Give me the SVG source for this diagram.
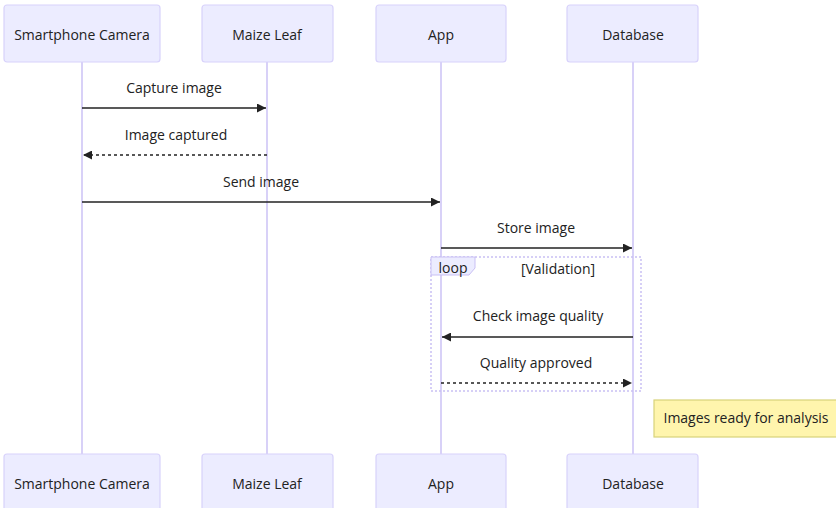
<svg xmlns="http://www.w3.org/2000/svg" width="836" height="508" viewBox="0 0 836 508">
<style>
.actor{fill:#ececff;stroke:#d8d2fb;stroke-width:1.2}
.atext{font-family:"Open Sans","Liberation Sans",sans-serif;font-size:14px;fill:#222;text-anchor:middle;dominant-baseline:central}
.life{stroke:#cfc6f6;stroke-width:1.6}
.msg{stroke:#222;stroke-width:1.6;fill:none}
.dash{stroke-dasharray:3,3}
.mtext{font-family:"Open Sans","Liberation Sans",sans-serif;font-size:14px;fill:#222;text-anchor:middle}
.loop{fill:none;stroke:#c9c0f4;stroke-width:1.5;stroke-dasharray:2,2}
.note{fill:#fff5ad;stroke:#d8d27a;stroke-width:1.2}
</style>
<defs>
<marker id="arr" viewBox="0 0 10 10" refX="10" refY="5" markerWidth="10" markerHeight="9" markerUnits="userSpaceOnUse" orient="auto-start-reverse">
<path d="M0,0 L10,5 L0,10 z" fill="#222"/>
</marker>
</defs>
<g id="lifelines">
<line class="life" x1="82" y1="62" x2="82" y2="454"/>
<line class="life" x1="267" y1="62" x2="267" y2="454"/>
<line class="life" x1="441" y1="62" x2="441" y2="454"/>
<line class="life" x1="633" y1="62" x2="633" y2="454"/>
</g>
<g id="actor-camera-top"><rect class="actor" x="4" y="5" width="156" height="57" rx="3"/><text class="atext" x="82" y="34">Smartphone Camera</text></g>
<g id="actor-leaf-top"><rect class="actor" x="202" y="5" width="131" height="57" rx="3"/><text class="atext" x="267" y="34">Maize Leaf</text></g>
<g id="actor-app-top"><rect class="actor" x="376" y="5" width="130" height="57" rx="3"/><text class="atext" x="441" y="34">App</text></g>
<g id="actor-db-top"><rect class="actor" x="567" y="5" width="131" height="57" rx="3"/><text class="atext" x="633" y="34">Database</text></g>
<g id="actor-camera-bottom"><rect class="actor" x="4" y="454" width="156" height="57" rx="3"/><text class="atext" x="82" y="483">Smartphone Camera</text></g>
<g id="actor-leaf-bottom"><rect class="actor" x="202" y="454" width="131" height="57" rx="3"/><text class="atext" x="267" y="483">Maize Leaf</text></g>
<g id="actor-app-bottom"><rect class="actor" x="376" y="454" width="130" height="57" rx="3"/><text class="atext" x="441" y="483">App</text></g>
<g id="actor-db-bottom"><rect class="actor" x="567" y="454" width="131" height="57" rx="3"/><text class="atext" x="633" y="483">Database</text></g>
<g id="loop-validation">
<rect class="loop" x="431" y="257" width="210" height="134"/>
<polygon points="431,257 475,257 475,268 469,275 431,275" fill="#ececff" stroke="#c9c0f4" stroke-width="1"/>
<text class="mtext" x="453" y="273">loop</text>
<text class="mtext" x="558" y="274">[Validation]</text>
</g>
<g id="messages">
<text class="mtext" x="174" y="93">Capture image</text>
<line class="msg" x1="82" y1="108" x2="266" y2="108" marker-end="url(#arr)"/>
<text class="mtext" x="176" y="140">Image captured</text>
<line class="msg dash" x1="267" y1="155" x2="83" y2="155" marker-end="url(#arr)"/>
<text class="mtext" x="261" y="187">Send image</text>
<line class="msg" x1="82" y1="202" x2="440" y2="202" marker-end="url(#arr)"/>
<text class="mtext" x="536" y="233">Store image</text>
<line class="msg" x1="441" y1="248" x2="632" y2="248" marker-end="url(#arr)"/>
<text class="mtext" x="538" y="321">Check image quality</text>
<line class="msg" x1="633" y1="337" x2="442" y2="337" marker-end="url(#arr)"/>
<text class="mtext" x="536" y="368">Quality approved</text>
<line class="msg dash" x1="441" y1="383" x2="632" y2="383" marker-end="url(#arr)"/>
</g>
<g id="note">
<rect class="note" x="654" y="400" width="186" height="37"/>
<text class="mtext" x="746" y="423">Images ready for analysis</text>
</g>
</svg>
